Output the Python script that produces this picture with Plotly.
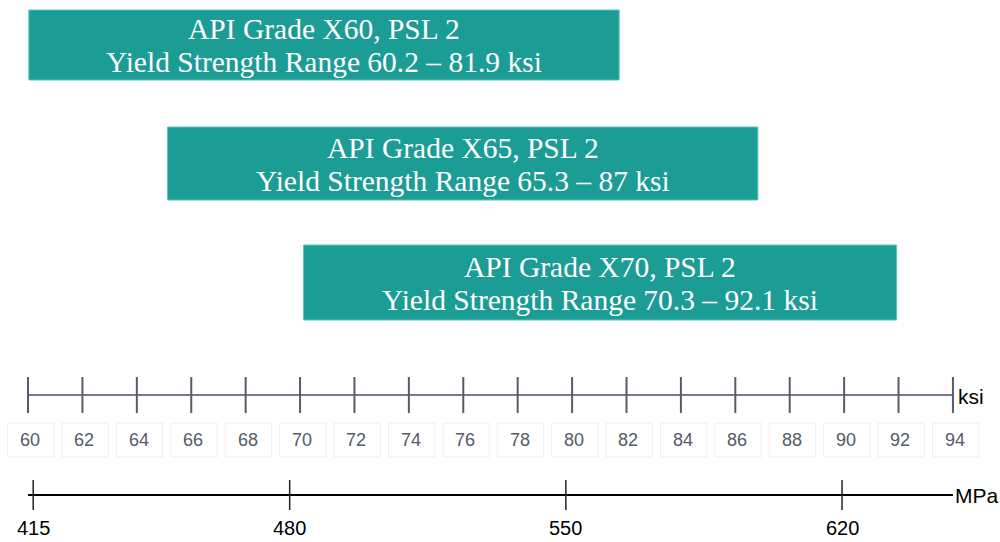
import plotly.graph_objects as go

# ---- data ----
grades = ["API Grade X60, PSL 2", "API Grade X65, PSL 2", "API Grade X70, PSL 2"]
range_low = [60.2, 65.3, 70.3]
range_high = [81.9, 87.0, 92.1]
ksi_ticks = [60, 62, 64, 66, 68, 70, 72, 74, 76, 78, 80, 82, 84, 86, 88, 90, 92, 94]
mpa_ticks = [415, 480, 550, 620]
MPA_PER_KSI = 6.894757

# ---- layout constants (pixel-like y coordinates) ----
TEAL = "#1b9c95"
box_rows = [(10, 80), (127, 200), (245, 320)]
KSI_Y = 395
MPA_Y = 495
X0, X1 = 58.97, 95.73
SERIF = "Liberation Serif, Times New Roman, serif"
SANS = "Liberation Sans, Arial, sans-serif"

fig = go.Figure()
shapes = []
annotations = []

for g, lo, hi, (y0, y1) in zip(grades, range_low, range_high, box_rows):
    lo_s, hi_s = lo - 0.17, hi - 0.17
    shapes.append(dict(type="rect", xref="x", yref="y", x0=lo_s, x1=hi_s, y0=y0, y1=y1,
                       fillcolor=TEAL, line=dict(color="#5cc4bd", width=1), layer="below"))
    xc = (lo_s + hi_s) / 2
    yc = (y0 + y1) / 2
    annotations.append(dict(x=xc, y=yc - 16, xref="x", yref="y", text=g, showarrow=False,
                            font=dict(family=SERIF, size=29.5, color="white")))
    annotations.append(dict(x=xc, y=yc + 17, xref="x", yref="y",
                            text=f"Yield Strength Range {lo:g} – {hi:g} ksi", showarrow=False,
                            font=dict(family=SERIF, size=29.5, color="white")))

# ksi axis line
shapes.append(dict(type="line", xref="x", yref="y", x0=ksi_ticks[0], x1=ksi_ticks[-1],
                   y0=KSI_Y, y1=KSI_Y, line=dict(color="#4a4a68", width=1.5)))
for t in ksi_ticks:
    shapes.append(dict(type="line", xref="x", yref="y", x0=t, x1=t, y0=377, y1=413,
                       line=dict(color="#5a5a6a", width=2)))
    shapes.append(dict(type="rect", xref="x", yref="y", x0=t - 0.75, x1=t + 0.95,
                       y0=423, y1=457, line=dict(color="#efefe8", width=1),
                       fillcolor="rgba(0,0,0,0)"))
    annotations.append(dict(x=t + 0.07, y=440, xref="x", yref="y", text=str(t), showarrow=False,
                            font=dict(family=SANS, size=18, color="#555a66")))
annotations.append(dict(x=ksi_ticks[-1], y=KSI_Y + 1, xref="x", yref="y", text="ksi",
                        showarrow=False, xanchor="left", xshift=3,
                        font=dict(family=SANS, size=21, color="black")))

# MPa axis line
shapes.append(dict(type="line", xref="x", yref="y", x0=ksi_ticks[0], x1=ksi_ticks[-1],
                   y0=MPA_Y, y1=MPA_Y, line=dict(color="black", width=2)))
for m in mpa_ticks:
    xv = m / MPA_PER_KSI
    shapes.append(dict(type="line", xref="x", yref="y", x0=xv, x1=xv, y0=480, y1=510,
                       line=dict(color="#222222", width=1.5)))
    annotations.append(dict(x=xv, y=528, xref="x", yref="y", text=str(m), showarrow=False,
                            font=dict(family=SANS, size=20, color="black")))
annotations.append(dict(x=ksi_ticks[-1], y=MPA_Y, xref="x", yref="y", text="MPa",
                        showarrow=False, xanchor="left", xshift=0,
                        font=dict(family=SANS, size=21, color="black")))

fig.update_layout(
    width=1000, height=542, autosize=False,
    margin=dict(l=0, r=0, t=0, b=0),
    paper_bgcolor="white", plot_bgcolor="white",
    shapes=shapes, annotations=annotations, showlegend=False,
    xaxis=dict(range=[X0, X1], visible=False, fixedrange=True),
    yaxis=dict(range=[542, 0], visible=False, fixedrange=True),
)

fig.write_html("out.html", config={"displayModeBar": False},
               post_script="document.body.style.margin='0';document.body.style.overflow='hidden';")
